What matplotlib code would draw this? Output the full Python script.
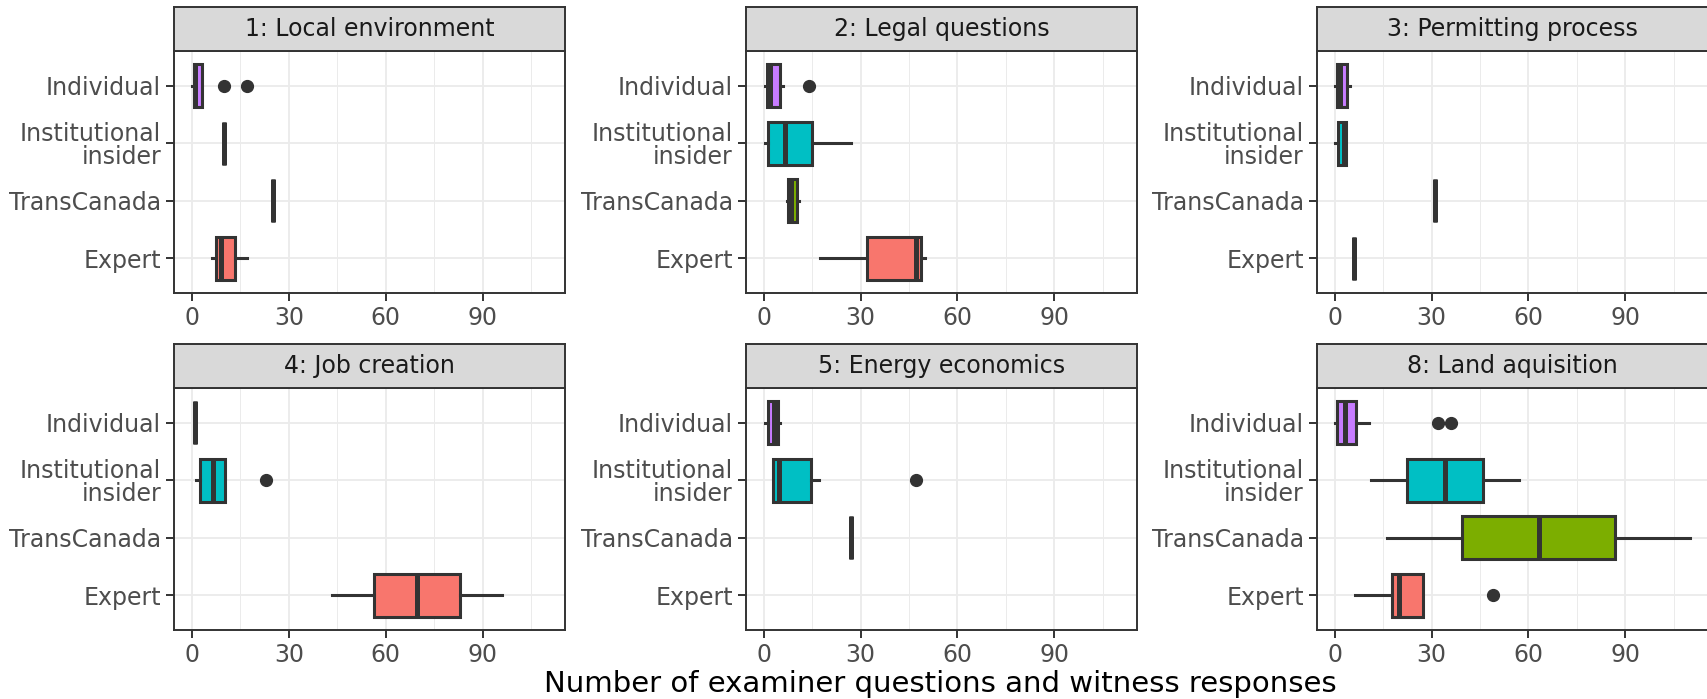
import matplotlib
matplotlib.use("Agg")
import matplotlib.pyplot as plt

# categories from bottom to top (ggplot factor order)
categories = ["Expert", "TransCanada", "Institutional\ninsider", "Individual"]
fill_colors = ["#F8766D", "#7CAE00", "#00BFC4", "#C77CFF"]

panel_titles = ["1: Local environment", "2: Legal questions", "3: Permitting process",
                "4: Job creation", "5: Energy economics", "8: Land aquisition"]

# box statistics per panel, per category (Expert, TransCanada, Institutional, Individual)
# None = no data for that group
whis_lo = [
    [6.3, 25, 10, 0],
    [17.3, 7.2, 0.4, 0.3],
    [6, 31, 0.1, 0.1],
    [43.3, None, 1.2, 1],
    [None, 27, 3, 0.4],
    [6.2, 16.2, 11.2, 0.1],
]
q1 = [
    [7.3, 25, 10, 0.5],
    [32, 7.6, 1.3, 0.9],
    [6, 31, 1.0, 0.7],
    [56.3, None, 2.5, 1],
    [None, 27, 3, 1.3],
    [17.8, 39.5, 22.4, 0.7],
]
med = [
    [9, 25, 10, 1],
    [47.2, 8.3, 6.6, 2],
    [6, 31, 3, 1.7],
    [69.6, None, 6.5, 1],
    [None, 27, 4.8, 3.3],
    [20, 63.2, 34, 3.1],
]
q3 = [
    [13.2, 25, 10, 3],
    [48.8, 10.3, 14.8, 5.1],
    [6, 31, 3.5, 3.7],
    [83, None, 10.3, 1],
    [None, 27, 14.5, 4.5],
    [27.2, 86.8, 45.8, 6.7],
]
whis_hi = [
    [17, 25, 10, 3],
    [50, 10.9, 27, 5.9],
    [6, 31, 3.5, 4.8],
    [96, None, 10.3, 1],
    [None, 27, 17, 5.1],
    [27.2, 110, 57, 10.7],
]
outliers = [
    [[], [], [], [10, 17]],
    [[], [], [], [14.1]],
    [[], [], [], []],
    [[], [], [23], []],
    [[], [], [47], []],
    [[49], [], [], [32, 36]],
]

x_ticks = [0, 30, 60, 90]
x_minor = [15, 45, 75, 105]

W, H = 1707, 699
fig = plt.figure(figsize=(W / 100, H / 100), dpi=100)

dark = "#333333"
lefts = [174.3, 746, 1317]
panel_w = 390.7
tops = [7, 344]
strip_h = 44
plot_h = 242

for p in range(6):
    row, col = divmod(p, 3)
    x0 = lefts[col]
    y_strip = tops[row]
    y_plot = y_strip + strip_h
    ax = fig.add_axes([x0 / W, 1 - (y_plot + plot_h) / H, panel_w / W, plot_h / H])
    sax = fig.add_axes([x0 / W, 1 - (y_strip + strip_h) / H, panel_w / W, strip_h / H])

    # strip
    sax.set_facecolor("#D9D9D9")
    sax.set_xticks([])
    sax.set_yticks([])
    for s in sax.spines.values():
        s.set_color(dark)
        s.set_linewidth(1.4)
    sax.text(0.5, 0.5, panel_titles[p], ha="center", va="center",
             fontsize=17, color="#1A1A1A", transform=sax.transAxes)

    stats, pos, cols = [], [], []
    for c in range(4):
        if med[p][c] is None:
            continue
        stats.append(dict(whislo=whis_lo[p][c], q1=q1[p][c], med=med[p][c],
                          q3=q3[p][c], whishi=whis_hi[p][c], fliers=outliers[p][c]))
        pos.append(c + 1)
        cols.append(fill_colors[c])

    bp = ax.bxp(stats, positions=pos, widths=0.75, orientation="horizontal",
                patch_artist=True, showcaps=False,
                boxprops=dict(edgecolor=dark, linewidth=2.2),
                medianprops=dict(color=dark, linewidth=3.6, solid_capstyle="butt"),
                whiskerprops=dict(color=dark, linewidth=2.2),
                flierprops=dict(marker="o", markerfacecolor=dark, markeredgecolor=dark,
                                markersize=8.5, linestyle="none"),
                zorder=3)
    for patch, c in zip(bp["boxes"], cols):
        patch.set_facecolor(c)

    ax.set_xlim(-5.5, 115.5)
    ax.set_ylim(0.4, 4.6)
    ax.set_xticks(x_ticks)
    ax.set_xticks(x_minor, minor=True)
    ax.set_yticks([1, 2, 3, 4])
    ax.set_yticklabels(categories, linespacing=0.95)
    ax.grid(True, which="major", color="#EBEBEB", linewidth=1.3, zorder=0)
    ax.grid(True, which="minor", axis="x", color="#EBEBEB", linewidth=0.7, zorder=0)
    ax.set_axisbelow(True)
    ax.tick_params(which="major", length=5.5, width=1.4, color=dark,
                   labelsize=17, labelcolor="#4D4D4D", pad=4)
    ax.tick_params(which="minor", length=0)
    for s in ax.spines.values():
        s.set_color(dark)
        s.set_linewidth(1.4)

fig.text((174.3 + 1707) / 2 / W, 1 - 684 / H,
         "Number of examiner questions and witness responses",
         ha="center", va="center", fontsize=21, color="black")

fig.savefig("out.png", dpi=100)
